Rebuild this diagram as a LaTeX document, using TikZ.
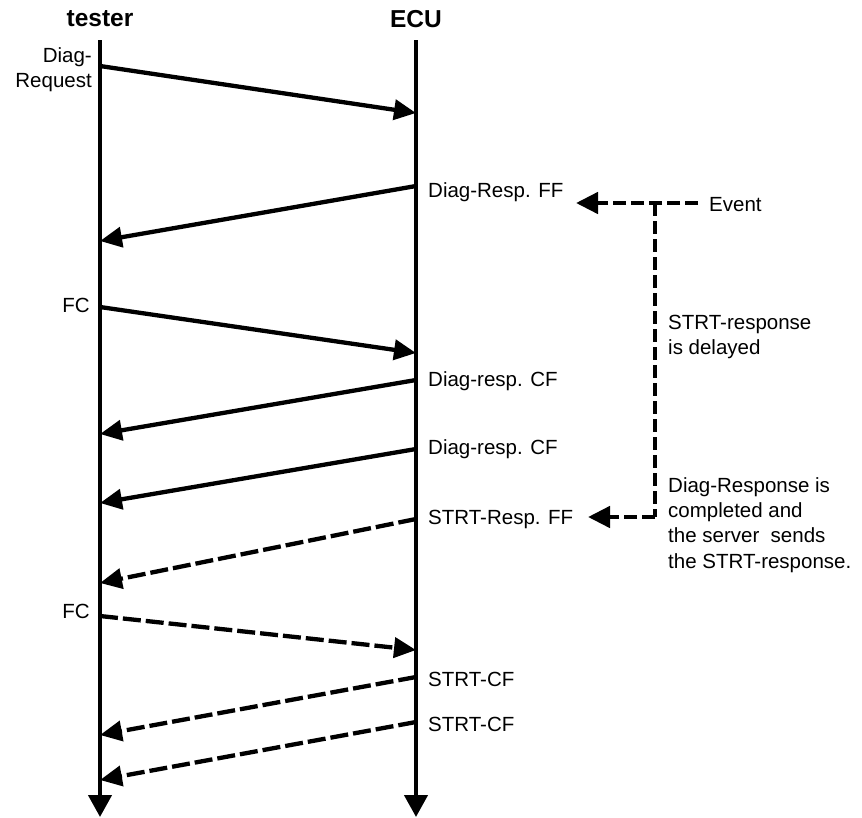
\documentclass[tikz,border=0pt]{standalone}
\usepackage{fontspec}
\setmainfont{Liberation Sans}
\usetikzlibrary{arrows.meta}
\begin{document}
\begin{tikzpicture}[x=1pt,y=-1pt,
  life/.style={line width=4.3pt,-{Triangle[length=22pt,width=23pt]}},
  msg/.style={line width=4.3pt,-{Triangle[length=22pt,width=20pt]}},
  dmsg/.style={msg,dash pattern=on 18pt off 5pt},
  brk/.style={line width=4.6pt,dash pattern=on 13pt off 5pt},
  brka/.style={brk,-{Triangle[length=22pt,width=21pt]}},
  lbl/.style={inner sep=0pt,font=\fontsize{20.5}{25}\selectfont},
  ttl/.style={inner sep=0pt,font=\fontsize{24.5}{28}\selectfont\bfseries}]
\useasboundingbox (0,0) rectangle (862,817);
% lifelines
\coordinate (ts) at (100,40);
\coordinate (te) at (100,817);
\coordinate (es) at (416,40);
\coordinate (ee) at (416,817);
\draw[life] (ts) -- (te);
\draw[life] (es) -- (ee);
\node[ttl] (tester) at (100,19) {tester};
\node[ttl] (ecu) at (416,19) {ECU};
% message endpoints
\coordinate (m1a) at (100,66);  \coordinate (m1b) at (416,113);
\coordinate (m2a) at (416,186); \coordinate (m2b) at (100,241);
\coordinate (m3a) at (100,307); \coordinate (m3b) at (416,353);
\coordinate (m4a) at (416,380); \coordinate (m4b) at (100,434);
\coordinate (m5a) at (416,449); \coordinate (m5b) at (100,503);
\coordinate (m6a) at (416,519); \coordinate (m6b) at (100,583);
\coordinate (m7a) at (100,616); \coordinate (m7b) at (416,650);
\coordinate (m8a) at (416,677); \coordinate (m8b) at (100,735);
\coordinate (m9a) at (416,722); \coordinate (m9b) at (100,780);
\draw[msg] (m1a) -- (m1b);
\draw[msg] (m2a) -- (m2b);
\draw[msg] (m3a) -- (m3b);
\draw[msg] (m4a) -- (m4b);
\draw[msg] (m5a) -- (m5b);
\draw[dmsg] (m6a) -- (m6b);
\draw[dmsg] (m7a) -- (m7b);
\draw[dmsg] (m8a) -- (m8b);
\draw[dmsg] (m9a) -- (m9b);
% labels
\node[lbl,anchor=east,align=right] (l1) at (92,70) {Diag-\\Request};
\node[lbl,anchor=west] (l2) at (428,192) {Diag-Resp. FF};
\node[lbl,anchor=east] (l3) at (90,305) {FC};
\node[lbl,anchor=west] (l4) at (428,381) {Diag-resp. CF};
\node[lbl,anchor=west] (l5) at (428,449) {Diag-resp. CF};
\node[lbl,anchor=west] (l6) at (428,519) {STRT-Resp. FF};
\node[lbl,anchor=east] (l7) at (90,611) {FC};
\node[lbl,anchor=west] (l8) at (428,679) {STRT-CF};
\node[lbl,anchor=west] (l9) at (428,724) {STRT-CF};
% bracket
\node[lbl,anchor=west] (event) at (709,205) {Event};
\coordinate (bt) at (655,203);
\coordinate (bb) at (655,517);
\coordinate (t1) at (576,203);
\coordinate (t2) at (588,517);
\draw[brka] (event.west) ++(-11,-2) -- (t1);
\draw[brk] (bt) -- (bb);
\draw[brka] (bb) -- (t2);
\node[lbl,anchor=west,align=left] (delay) at (668,337) {STRT-response\\is delayed};
\node[lbl,anchor=west,align=left,font=\fontsize{20.5}{25.3}\selectfont] (done) at (668,525) {Diag-Response is\\completed and\\the server\ \ sends\\the STRT-response.};
\end{tikzpicture}
\end{document}
